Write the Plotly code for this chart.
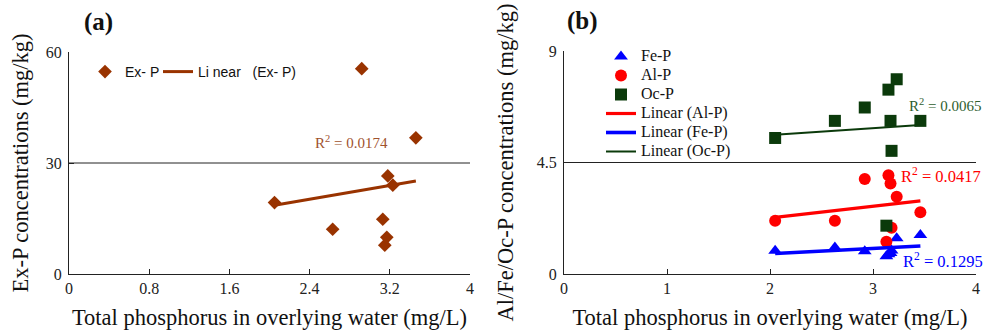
import numpy as np
import plotly.graph_objects as go

# ---- data ----
tp = [2.05, 2.63, 2.92, 3.13, 3.15, 3.17, 3.18, 3.23, 3.46]
ex_p = [19.3, 12.1, 55.5, 14.8, 7.8, 9.9, 26.5, 24.0, 36.8]
fe_p = [0.94, 1.07, 0.92, 0.72, 0.80, 0.85, 0.95, 1.44, 1.57]
al_p = [2.15, 2.15, 3.83, 1.30, 3.99, 3.65, 1.87, 3.12, 2.49]
oc_p = [5.49, 6.18, 6.72, 1.95, 7.44, 6.18, 4.97, 7.86, 6.18]
r2_labels = {"ex": "0.0174", "oc": "0.0065", "al": "0.0417", "fe": "0.1295"}
xticks_a = [0, 0.8, 1.6, 2.4, 3.2, 4]
xticks_b = [0, 1, 2, 3, 4]
yticks_a = [0, 30, 60]
yticks_b = [0, 4.5, 9]

W, H = 985, 332
BROWN = "#993300"
RED = "#FF0000"
BLUE = "#0000FF"
GREEN = "#0B3A0B"
SERIF = "Liberation Serif"
SANS = "Liberation Sans"


def fit(x, y):
    k, b = np.polyfit(x, y, 1)
    xs = np.array([min(x), max(x)])
    return xs, k * xs + b


def px(v):
    return v / W


def py(v):
    return 1 - v / H


def big(t, s=16):
    return '<span style="font-size:%dpx">%s</span>' % (s, t)


fig = go.Figure()

# panel a
fig.add_trace(go.Scatter(x=tp, y=ex_p, mode="markers", name="Ex- P",
                         marker=dict(symbol="diamond", size=10.5, color=BROWN),
                         xaxis="x", yaxis="y", legend="legend"))
xs, ys = fit(tp, ex_p)
fig.add_trace(go.Scatter(x=xs, y=ys, mode="lines", name="Li near\u00a0\u00a0 (Ex- P)",
                         line=dict(color=BROWN, width=3),
                         xaxis="x", yaxis="y", legend="legend3"))

# panel b
fig.add_trace(go.Scatter(x=tp, y=fe_p, mode="markers", name=big("Fe-P"),
                         marker=dict(symbol="triangle-up", size=12, color=BLUE),
                         xaxis="x2", yaxis="y2", legend="legend2"))
fig.add_trace(go.Scatter(x=tp, y=al_p, mode="markers", name=big("Al-P"),
                         marker=dict(symbol="circle", size=12, color=RED),
                         xaxis="x2", yaxis="y2", legend="legend2"))
fig.add_trace(go.Scatter(x=tp, y=oc_p, mode="markers", name=big("Oc-P"),
                         marker=dict(symbol="square", size=12, color=GREEN),
                         xaxis="x2", yaxis="y2", legend="legend2"))
for yy, nm, col, w in [(al_p, "Linear (Al-P)", RED, 3.2),
                       (fe_p, "Linear (Fe-P)", BLUE, 3.6),
                       (oc_p, "Linear (Oc-P)", GREEN, 2)]:
    xs, ys = fit(tp, yy)
    fig.add_trace(go.Scatter(x=xs, y=ys, mode="lines", name=big(nm),
                             line=dict(color=col, width=w),
                             xaxis="x2", yaxis="y2", legend="legend2"))

ax_common = dict(showline=True, linecolor="#222", linewidth=1, ticks="inside",
                 ticklen=5, tickcolor="#222", showgrid=False, zeroline=False,
                 automargin=False,
                 tickfont=dict(family=SERIF, size=16, color="#222"))
TFONT = dict(family=SERIF, size=22.5, color="#111")
LEG_A = dict(orientation="h", xanchor="left", yanchor="middle",
             font=dict(family=SANS, size=14, color="#111"), bgcolor="rgba(0,0,0,0)",
             itemwidth=30, tracegroupgap=0)

fig.update_layout(
    width=W, height=H, margin=dict(l=0, r=0, t=0, b=0, autoexpand=False),
    paper_bgcolor="white", plot_bgcolor="white",
    xaxis=dict(domain=[px(69), px(470)], range=[0, 4], tickvals=xticks_a,
               ticktext=[str(t) for t in xticks_a], anchor="y",
               title=dict(text="Total phosphorus in overlying water (mg/L)",
                          font=TFONT, standoff=13),
               **ax_common),
    yaxis=dict(domain=[py(274), py(52)], range=[0, 60], tickvals=yticks_a, anchor="x",
               title=dict(text="Ex-P concentrations (mg/kg)", font=TFONT, standoff=10),
               ticklabelstandoff=3, **ax_common),
    xaxis2=dict(domain=[px(564), px(976)], range=[0, 4], tickvals=xticks_b, anchor="y2",
                title=dict(text="Total phosphorus in overlying water (mg/L)",
                           font=TFONT, standoff=13),
                **ax_common),
    yaxis2=dict(domain=[py(274), py(51)], range=[0, 9], tickvals=yticks_b,
                ticktext=["0", "4.5", "9"], anchor="x2",
                title=dict(text="Al/Fe/Oc-P concentrations (mg/kg)", font=TFONT, standoff=16),
                ticklabelstandoff=3, **ax_common),
    legend=dict(x=px(85), y=py(72), **LEG_A),
    legend3=dict(x=px(158), y=py(72), **LEG_A),
    legend2=dict(orientation="v", x=px(601), y=py(42), xanchor="left", yanchor="top",
                 font=dict(family=SERIF, size=12, color="#111"), bgcolor="rgba(0,0,0,0)",
                 tracegroupgap=0),
    showlegend=True,
)

# single middle gridline for each panel
fig.add_shape(type="line", xref="x domain", yref="y", x0=0, x1=1, y0=30, y1=30,
              line=dict(color="#222", width=1))
fig.add_shape(type="line", xref="x2 domain", yref="y2", x0=0, x1=1, y0=4.5, y1=4.5,
              line=dict(color="#222", width=1))

for txt, xx, yy in [("<b>(a)</b>", 98, 22), ("<b>(b)</b>", 582, 21)]:
    fig.add_annotation(text=txt, x=px(xx), y=py(yy), xref="paper", yref="paper",
                       xanchor="center", yanchor="middle", showarrow=False,
                       font=dict(family=SERIF, size=25, color="#111"))

r2 = [
    (r2_labels["ex"], 2.816, 35.7, "x", "y", "#A0522D", 15),
    (r2_labels["oc"], 3.70, 6.81, "x2", "y2", "#2E5E2E", 15),
    (r2_labels["al"], 3.657, 3.96, "x2", "y2", RED, 16.5),
    (r2_labels["fe"], 3.68, 0.56, "x2", "y2", BLUE, 16.5),
]
for val, xv, yv, xr, yr, col, fs in r2:
    fig.add_annotation(text="R<sup>2</sup> = " + val, x=xv, y=yv, xref=xr, yref=yr,
                       xanchor="center", yanchor="middle", showarrow=False,
                       font=dict(family=SERIF, size=fs, color=col))

fig.write_html("out.html")
